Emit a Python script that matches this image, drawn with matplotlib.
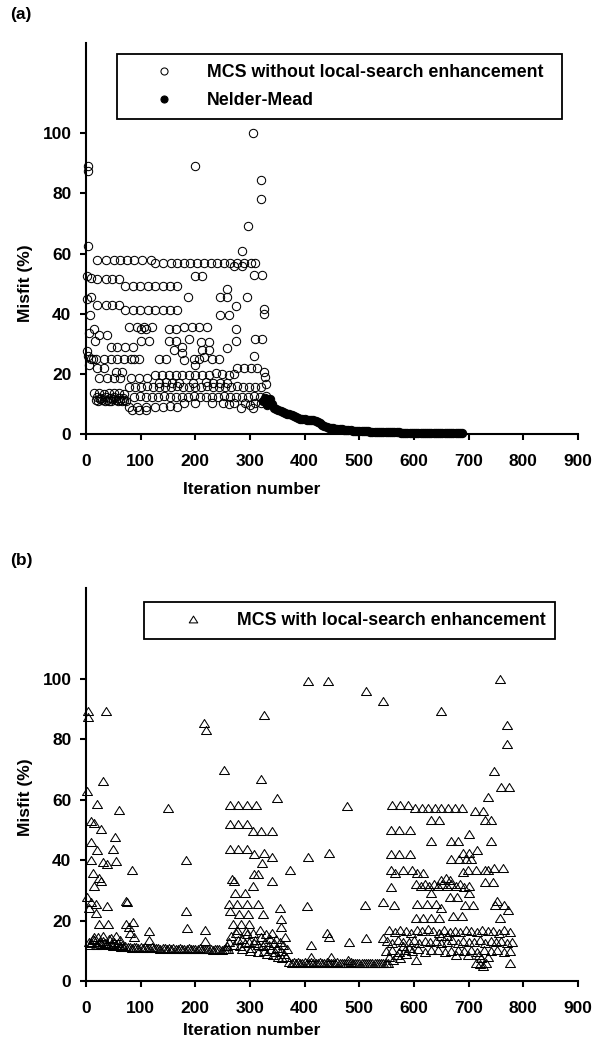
import matplotlib.pyplot as plt
from matplotlib.path import Path

plt.rcParams['font.family'] = ['Liberation Sans', 'DejaVu Sans']
plt.rcParams['font.weight'] = 'bold'
plt.rcParams['font.size'] = 12.5

# ---- panel (a): MCS without local search (open circles) ----
a_top_x = [4, 4, 3, 199, 306, 320, 321, 296, 286]
a_top_y = [89, 87.3, 62.4, 89, 100, 84.3, 78.2, 69, 61.0]

a57_x = [21, 36, 51, 63, 75, 88, 103, 118, 127, 140, 155, 167, 179, 191, 203, 216, 228,
         240, 252, 264, 271, 277, 289, 301, 310, 285]
a57_y = [57.8, 57.8, 57.9, 57.8, 57.7, 57.8, 57.9, 57.8, 57.0, 56.9, 57.0, 57.0, 56.9, 57.0,
         57.0, 56.9, 57.0, 57.0, 56.9, 57.0, 55.8, 57.0, 57.0, 56.9, 57.0, 56.0]

a50_x = [2, 9, 21, 36, 48, 60, 72, 86, 99, 113, 126, 140, 153, 167, 200, 213, 307, 322,
         9, 186, 246, 258, 258, 295]
a50_y = [52.5, 51.8, 51.4, 51.4, 51.5, 51.4, 49.2, 49.2, 49.3, 49.2, 49.2, 49.3, 49.2, 49.2,
         52.5, 52.5, 52.8, 52.8, 45.6, 45.6, 45.6, 45.6, 48.3, 45.6]

a42_x = [2, 21, 36, 48, 60, 72, 86, 99, 113, 126, 140, 153, 167, 274, 246, 261, 325, 326, 8]
a42_y = [45.0, 42.9, 42.9, 43.0, 42.9, 41.2, 41.2, 41.3, 41.2, 41.2, 41.3, 41.2, 41.2, 42.5,
         39.5, 39.5, 41.5, 40.0, 39.5]

a32_x = [79, 94, 106, 121, 101, 109, 152, 164, 179, 194, 207, 222, 274, 14, 6, 24, 39,
         100, 115, 152, 164, 188, 210, 225, 274, 310, 322, 17, 45, 57, 72, 86, 176, 258,
         213, 225, 161, 176, 2]
a32_y = [35.6, 35.6, 35.7, 35.6, 34.8, 35.0, 35.0, 35.0, 35.6, 35.6, 35.6, 35.6, 35.0, 35.0,
         33.5, 33.0, 33.0, 31.0, 31.0, 31.0, 31.0, 31.5, 30.5, 30.5, 31.0, 31.5, 31.5, 31.0,
         28.8, 28.8, 28.8, 28.8, 29.0, 28.5, 28.0, 28.0, 28.0, 27.0, 27.5]

a23_x = [3, 9, 12, 18, 33, 45, 57, 70, 82, 88, 97, 133, 146, 179, 197, 207, 216, 231, 243,
         307, 5, 200, 21, 33, 277, 289, 301, 313, 325, 54, 66, 328]
a23_y = [25.8, 25.1, 25.1, 25.1, 25.1, 25.0, 25.1, 25.1, 25.0, 25.1, 25.1, 25.1, 25.0, 24.5,
         25.1, 25.1, 25.6, 24.8, 24.8, 25.8, 22.9, 22.9, 21.8, 21.8, 21.8, 21.8, 21.8, 21.8,
         20.5, 20.7, 20.7, 18.8]

a18_x = [127, 139, 152, 164, 176, 188, 200, 212, 225, 237, 249, 261, 271, 24, 39, 51, 63,
         82, 97, 112, 133, 146, 158, 170, 195, 220, 233, 246, 258]
a18_y = [19.6, 19.6, 19.7, 19.6, 19.6, 19.6, 19.7, 19.6, 19.6, 20.3, 20.0, 19.6, 19.8,
         18.5, 18.5, 18.5, 18.5, 18.5, 18.5, 18.5,
         17.0, 17.2, 17.0, 17.1, 17.0, 17.2, 17.0, 17.1, 17.0]

a16_x = [78, 89, 100, 111, 122, 133, 144, 155, 166, 177, 188, 199, 210, 221, 232, 243, 254,
         265, 276, 287, 298, 309, 320, 329]
a16_y = [15.7, 15.6, 15.7, 15.8, 15.7, 15.6, 15.7, 15.7, 15.8, 15.6, 15.7, 15.7, 15.6, 15.8,
         15.7, 15.7, 15.6, 15.7, 15.8, 15.7, 15.6, 15.7, 15.7, 16.5]

a12_x = [15, 24, 33, 42, 51, 60, 70, 88, 99, 110, 121, 132, 143, 154, 165, 176, 187, 198,
         209, 220, 231, 242, 253, 264, 275, 286, 297, 308, 319, 329]
a12_y = [13.5, 13.6, 13.4, 13.5, 13.6, 13.5, 13.4, 12.4, 12.5, 12.4, 12.3, 12.4, 12.5, 12.4,
         12.4, 12.3, 12.4, 12.5, 12.4, 12.4, 12.3, 12.4, 12.5, 12.4, 12.4, 12.3, 12.4, 12.5,
         12.4, 12.6]

a11_x = [18, 22, 26, 30, 34, 38, 42, 46, 50, 54, 58, 62, 66, 70, 74, 20, 28, 36, 44, 52, 60, 68]
a11_y = [11.3, 11.0, 11.5, 11.2, 10.9, 11.4, 11.1, 11.0, 11.5, 11.2, 11.0, 11.3, 11.1, 11.4,
         11.0, 12.2, 12.0, 12.3, 12.1, 12.2, 12.0, 12.1]

a9_x = [79, 94, 109, 85, 97, 109, 127, 140, 153, 167, 284, 305, 180, 200, 230, 250, 270,
        290, 310, 320, 300, 262]
a9_y = [9.1, 9.1, 9.1, 8.0, 8.0, 8.1, 9.1, 9.1, 9.2, 9.1, 8.6, 8.6, 10.3, 10.4, 10.3, 10.2,
        10.4, 10.3, 10.2, 10.4, 9.5, 10.0]

# Nelder-Mead run, every 4th iteration from 324
nm_iter = list(range(324, 692, 4))
nm_misfit = [11.0, 12.0, 9.5, 11.5, 10.0, 8.8, 8.3, 8.0, 7.7, 7.4,
             7.1, 6.8, 6.5, 6.2, 5.9, 5.6, 5.3, 5.1, 5.0, 4.9,
             4.8, 4.7, 4.6, 4.5, 4.3, 4.0, 3.5, 3.0, 2.6, 2.3,
             2.1, 2.0, 1.9, 1.8, 1.7, 1.6, 1.5, 1.4, 1.3, 1.25,
             1.2, 1.15, 1.1, 1.05, 1.0, 0.95, 0.9, 0.9, 0.85, 0.8,
             0.8, 0.75, 0.7, 0.7, 0.65, 0.6, 0.6, 0.6, 0.55, 0.55,
             0.5, 0.5, 0.5, 0.45, 0.45, 0.45, 0.4, 0.4, 0.4, 0.4,
             0.35, 0.35, 0.35, 0.35, 0.3, 0.3, 0.3, 0.3, 0.3, 0.3,
             0.25, 0.25, 0.25, 0.25, 0.25, 0.2, 0.2, 0.2, 0.2, 0.2,
             0.2, 0.2]

# ---- panel (b): MCS with local search (open triangles) ----
b_early_x = [4, 4, 37, 32, 2, 21, 61, 10, 14, 27, 53, 9, 20, 50, 10, 32, 39, 54, 84, 12,
             24, 27, 15, 1, 9, 18, 6, 39, 74, 75, 19, 24, 41, 74, 86, 78, 81, 87, 116, 15,
             32, 55, 116, 45, 62]
b_early_y = [89.4, 87.3, 89.4, 66.3, 62.8, 58.4, 56.4, 52.9, 52.2, 50.4, 47.6, 46.0, 43.4,
             43.7, 40.1, 39.4, 38.6, 39.7, 36.6, 35.6, 34.0, 33.0, 31.4, 27.7, 26.0, 25.6,
             24.2, 24.8, 26.6, 26.0, 22.4, 19.0, 19.0, 19.0, 19.6, 18.0, 15.8, 14.7, 16.4,
             14.7, 15.0, 15.0, 13.5, 14.2, 13.6]

b_start_x = [5, 10, 15, 20, 25, 30, 35, 40, 45, 50, 55, 60, 65, 12, 22, 32, 42, 52,
             8, 18, 28, 38, 48, 58]
b_start_y = [13.0, 12.5, 13.5, 12.0, 12.8, 12.0, 12.5, 11.8, 12.2, 11.6, 12.0, 11.5, 11.8,
             14.0, 14.5, 13.2, 13.8, 13.0, 12.0, 11.8, 12.3, 12.4, 11.9, 12.6]

# first plateau, every 4th iteration
plat1_iter = list(range(64, 261, 4))
plat1_misfit = [11.4, 11.2, 11.5, 11.1, 11.3, 11.0, 11.2, 11.4, 11.0, 11.1,
                10.9, 11.2, 10.8, 11.0, 11.1, 10.8, 10.9, 11.0, 10.7, 10.9,
                10.8, 10.6, 10.9, 10.7, 10.8, 10.6, 10.7, 10.9, 10.6, 10.7,
                10.5, 10.8, 10.6, 10.7, 10.5, 10.6, 10.8, 10.5, 10.6, 10.7,
                10.5, 10.6, 10.4, 10.7, 10.5, 10.6, 10.4, 10.6, 10.5, 10.7]

# second plateau, every 4th iteration
plat2_iter = list(range(372, 553, 4))
plat2_misfit = [6.3, 6.0, 6.4, 5.9, 6.2, 6.0, 5.8, 6.3, 6.1, 5.9,
                6.2, 6.0, 5.8, 6.1, 6.3, 5.9, 6.0, 6.2, 5.8, 6.1,
                6.0, 5.9, 6.2, 6.0, 5.8, 6.1, 6.0, 5.9, 6.2, 5.8,
                6.0, 6.1, 5.9, 6.0, 5.8, 6.1, 6.0, 5.9, 6.1, 5.8,
                6.0, 5.9, 6.1, 6.0, 5.9, 6.0]

b_mid_x = [150, 183, 183, 184, 218, 218, 216, 219, 253, 325, 320, 350,
           263, 278, 294, 311, 263, 278, 295, 306, 320, 340, 263, 278, 295, 307, 325, 340, 322,
           267, 270, 307, 314, 340, 305, 272, 291, 262, 277, 294, 315, 355, 264, 280, 297,
           323, 268, 284, 298, 356, 357,
           373, 407, 444, 405, 441, 444, 411, 482, 478, 412, 449, 479, 406, 442, 512, 544,
           513, 544]
b_mid_y = [57.3, 40.0, 23.0, 17.6, 13.2, 17.0, 85.3, 83.1, 69.9, 88.1, 66.9, 60.5,
           58.3, 58.3, 58.3, 58.3, 52.0, 52.0, 52.0, 49.5, 49.5, 49.5, 43.5, 43.5, 43.5,
           42.0, 42.4, 41.0, 39.0,
           33.9, 33.0, 35.5, 35.5, 33.2, 31.3, 29.1, 29.1, 25.6, 25.6, 25.6, 25.6, 24.0,
           23.0, 22.2, 22.2, 22.2, 19.0, 19.0, 19.0, 20.6, 18.0,
           36.8, 41.0, 42.4, 24.8, 16.0, 14.6, 11.9, 12.9, 57.8, 8.0, 8.0, 7.0, 99.3, 99.3,
           96.0, 92.7, 14.1, 14.1]

b_mid_low_x = [258, 262, 266, 270, 274, 278, 282, 286, 290, 294, 298, 302, 306, 310, 314,
               318, 320, 324, 326, 328, 330, 332, 334, 336, 338, 340, 342, 344, 346, 348,
               350, 352, 354, 356, 358, 360, 362, 364, 366, 368, 285, 300, 315, 276, 292, 308]
b_mid_low_y = [11.5, 13.0, 15.0, 12.0, 16.0, 13.5, 11.5, 14.0, 12.5, 15.5, 13.0, 11.0,
               16.0, 13.5, 12.0, 17.0, 14.5, 11.5, 10.0, 13.0, 15.5, 9.0, 12.0, 14.0, 10.5,
               16.0, 8.5, 12.5, 9.5, 14.0, 11.0, 8.0, 13.0, 10.0, 7.5, 12.0, 9.0, 14.5, 8.0,
               10.5, 10.5, 10.0, 9.5, 17.0, 16.5, 12.5]

b_late_hi_x = [559, 574, 589, 602, 614, 626, 638, 650, 663, 675, 687, 711, 726, 729, 741,
               631, 646, 558, 573, 592, 700, 632, 668, 680, 740, 558, 573, 592, 716, 690,
               701, 668, 682, 696, 705, 689]
b_late_hi_y = [58.1, 58.1, 58.1, 57.3, 57.3, 57.3, 57.3, 57.3, 57.3, 57.3, 57.3, 56.1,
               56.1, 53.4, 53.4, 53.1, 53.1, 49.8, 49.8, 49.8, 48.7, 46.2, 46.2, 46.2, 46.2,
               41.9, 41.9, 41.9, 43.2, 42.2, 42.2, 40.2, 40.2, 40.2, 40.2, 35.9]

b_late_mid_x = [558, 565, 580, 596, 605, 617, 698, 714, 729, 735, 747, 762, 558, 604, 612,
                620, 628, 636, 644, 652, 660, 668, 676, 684, 692, 700, 650, 658, 666, 729,
                744, 631, 666, 679, 701]
b_late_mid_y = [36.6, 35.6, 36.6, 36.6, 35.6, 35.6, 36.8, 36.8, 36.8, 36.8, 37.3, 37.3,
                31.1, 32.0, 31.5, 32.0, 31.5, 32.0, 31.5, 32.0, 31.5, 32.0, 31.5, 32.0, 31.0,
                31.5, 33.5, 34.0, 33.5, 32.6, 32.6, 29.0, 27.7, 27.7, 29.0]

b_late_25_x = [510, 544, 564, 606, 623, 640, 693, 708, 752, 749, 764, 772, 650, 604, 617,
               631, 645, 672, 687, 758, 771, 771, 747, 760, 774, 735, 649, 757]
b_late_25_y = [25.1, 26.2, 25.3, 25.5, 25.5, 25.5, 25.3, 25.3, 26.4, 25.0, 25.0, 23.4,
               24.0, 20.7, 20.7, 20.7, 20.7, 21.5, 21.5, 20.7, 84.8, 78.4, 69.4, 64.1,
               64.1, 61.0, 89.2, 100.0]

b_row16_x = [555, 565, 575, 585, 595, 605, 615, 625, 635, 645, 655, 665, 675, 685, 695,
             705, 715, 725, 735, 745, 755, 765, 775]
b_row16_y = [16.8, 16.2, 17.0, 16.5, 16.0, 16.8, 16.4, 17.2, 16.6, 16.0, 16.9, 16.3, 16.7,
             16.1, 16.8, 16.5, 16.2, 17.0, 16.4, 16.6, 16.0, 16.8, 16.3]
b_row13_x = [550, 560, 570, 580, 590, 600, 610, 620, 630, 640, 650, 660, 670, 680, 690,
             700, 710, 720, 730, 740, 750, 760, 770, 780]
b_row13_y = [13.2, 12.6, 13.5, 12.8, 13.0, 13.4, 12.5, 13.1, 12.9, 13.3, 12.7, 13.0, 13.4,
             12.6, 13.2, 12.8, 13.0, 13.5, 12.7, 13.1, 12.9, 13.3, 12.6, 13.0]
b_row10_x = [548, 560, 572, 584, 596, 608, 620, 632, 644, 656, 668, 680, 692, 704, 716,
             728, 740, 752, 764, 776]
b_row10_y = [9.8, 10.4, 9.5, 10.2, 9.9, 10.5, 9.6, 10.1, 10.3, 9.7, 10.0, 10.4, 9.8, 10.2,
             9.5, 10.1, 9.9, 10.3, 9.6, 10.0]
b_low_x = [604, 676, 698, 776, 714, 720, 727, 731, 555, 562, 568, 575, 585, 580, 590, 722,
           718, 735, 650, 660]
b_low_y = [6.9, 8.6, 8.6, 6.0, 6.0, 5.5, 5.0, 6.0, 8.0, 7.0, 8.5, 7.5, 9.0, 11.5, 11.0,
           7.5, 8.5, 8.0, 14.8, 15.0]

mcs_a_x = (a_top_x + a57_x + a50_x + a42_x + a32_x + a23_x + a18_x + a16_x + a12_x
           + a11_x + a9_x)
mcs_a_y = (a_top_y + a57_y + a50_y + a42_y + a32_y + a23_y + a18_y + a16_y + a12_y
           + a11_y + a9_y)

mcs_b_x = (b_early_x + b_start_x + plat1_iter + plat2_iter + b_mid_x + b_mid_low_x
           + b_late_hi_x + b_late_mid_x + b_late_25_x + b_row16_x + b_row13_x
           + b_row10_x + b_low_x)
mcs_b_y = (b_early_y + b_start_y + plat1_misfit + plat2_misfit + b_mid_y + b_mid_low_y
           + b_late_hi_y + b_late_mid_y + b_late_25_y + b_row16_y + b_row13_y
           + b_row10_y + b_low_y)

W, H = 598, 1047
fig = plt.figure(figsize=(W / 100, H / 100), dpi=100)
ax_a = fig.add_axes([86 / W, 613 / H, 492 / W, 391 / H])
ax_b = fig.add_axes([86 / W, 66 / H, 492 / W, 393 / H])

# slightly flattened open triangle
tri = Path([(0, 0.8), (-1, -0.8), (1, -0.8), (0, 0.8)], closed=True)


def style_axes(ax, xlab_y, ylab_y):
    ax.set_xlim(0, 900)
    ax.set_ylim(0, 130)
    ax.set_xticks(range(0, 901, 100))
    ax.set_yticks(range(0, 101, 20))
    for s in ['top', 'right']:
        ax.spines[s].set_visible(False)
    for s in ['left', 'bottom']:
        ax.spines[s].set_linewidth(1.5)
    ax.tick_params(axis='y', direction='out', length=4.5, width=1.5, pad=6, labelsize=12.5)
    ax.tick_params(axis='x', direction='out', length=4.5, width=1.5, pad=10, labelsize=12.5)
    ax.set_xlabel('Iteration number', fontsize=12.5, fontweight='bold')
    ax.set_ylabel('Misfit (%)', fontsize=12.5, fontweight='bold')
    ax.xaxis.set_label_coords(0.337, xlab_y)
    ax.yaxis.set_label_coords(-0.108, ylab_y)


ax_a.plot(mcs_a_x, mcs_a_y, ls='none', marker='o', ms=6, mfc='none', mec='black',
          mew=0.75, clip_on=False, label='MCS without local-search enhancement')
ax_a.plot(nm_iter, nm_misfit, ls='none', marker='o', ms=6, mfc='black', mec='black',
          mew=0.75, clip_on=False, label='Nelder-Mead')
style_axes(ax_a, -0.123, 0.386)

ax_b.plot(mcs_b_x, mcs_b_y, ls='none', marker=tri, ms=7.2, mfc='none', mec='black',
          mew=0.75, clip_on=False, label='MCS with local-search enhancement')
style_axes(ax_b, -0.107, 0.468)

leg_kw = dict(loc='upper left', mode='expand', bbox_transform=fig.transFigure,
              frameon=True, fancybox=False, edgecolor='black', framealpha=1,
              borderaxespad=0, numpoints=1, markerscale=0.85,
              prop={'weight': 'bold', 'size': 12.8})
leg_a = ax_a.legend(bbox_to_anchor=(117 / W, 1 - 118 / H, 445 / W, 64 / H),
                    borderpad=0.55, handlelength=4.2, handletextpad=0.3,
                    labelspacing=0.65, **leg_kw)
leg_b = ax_b.legend(bbox_to_anchor=(144 / W, 1 - 638 / H, 411 / W, 36 / H),
                    borderpad=0.55, handlelength=4.4, handletextpad=0.28, **leg_kw)
for leg in (leg_a, leg_b):
    leg.get_frame().set_linewidth(1.3)

fig.text(10 / W, 1 - 15 / H, '(a)', ha='left', va='center', fontsize=12.5, fontweight='bold')
fig.text(10 / W, 1 - 560 / H, '(b)', ha='left', va='center', fontsize=12.5, fontweight='bold')

fig.savefig('out.png', dpi=100)
